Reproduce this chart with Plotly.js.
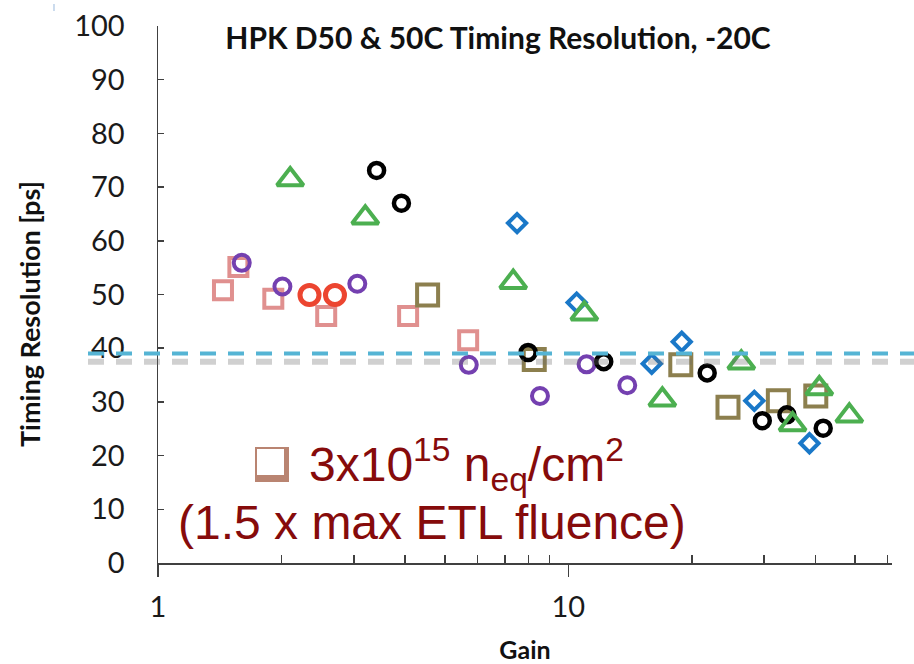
<!DOCTYPE html>
<html>
<head>
<meta charset="utf-8">
<script src="https://cdn.plot.ly/plotly-3.0.1.min.js"></script>
<style>html,body{margin:0;padding:0;background:#fff;}#chart{width:914px;height:664px;}</style>
</head>
<body>
<div id="chart"></div>
<script>
// ---- data ----
const gainPink   = [1.44, 1.57, 1.91, 2.57, 4.07, 5.70];
const resPink    = [50.8, 55.1, 49.2, 46.0, 46.0, 41.5];
const gainPurple = [1.60, 2.01, 3.06, 5.72, 8.53, 11.08, 13.92];
const resPurple  = [55.9, 51.5, 52.0, 36.9, 31.1, 37.0, 33.1];
const gainRed    = [2.34, 2.70];
const resRed     = [49.9, 49.9];
const gainGreen  = [2.10, 3.20, 7.34, 10.94, 16.95, 26.4, 35.2, 40.9, 48.4];
const resGreen   = [71.4, 64.3, 52.3, 46.4, 30.4, 37.3, 25.8, 32.5, 27.4];
const gainBlack  = [3.41, 3.92, 7.98, 12.2, 21.8, 29.7, 34.1, 41.8];
const resBlack   = [73.1, 67.0, 39.2, 37.5, 35.4, 26.5, 27.6, 25.1];
const gainBlue   = [7.50, 10.48, 15.97, 18.9, 28.4, 38.7];
const resBlue    = [63.3, 48.5, 37.1, 41.2, 30.2, 22.3];
const gainOlive  = [4.54, 8.26, 18.8, 24.5, 32.5, 40.1];
const resOlive   = [49.9, 37.9, 36.9, 29.0, 30.2, 31.1];
const targetRes  = 39;
const xMajorTicks = [1, 10];
const xMajorLabels = ['1', '10'];
const xMinorTicks = [2, 3, 4, 5, 6, 7, 8, 9, 20, 30, 40, 50, 60];

function tr(x, y, symbol, color, size, lw) {
  return {
    x: x, y: y, type: 'scatter', mode: 'markers', cliponaxis: false,
    hoverinfo: 'x+y', showlegend: false,
    marker: {symbol: symbol, size: size, color: color, line: {color: color, width: lw}}
  };
}

const data = [
  tr(gainPink, resPink, 'square-open', '#E0908F', 18, 4),
  tr(gainPurple, resPurple, 'circle-open', '#7440B0', 16, 4),
  tr(gainRed, resRed, 'circle-open', '#EC4530', 19, 5),
  tr(gainOlive, resOlive, 'square-open', '#8C7F4E', 21, 4),
  tr(gainBlue, resBlue, 'diamond-open', '#1A78C8', 14, 4),
  tr(gainBlack, resBlack, 'circle-open', '#000000', 15, 4.5),
  tr(gainGreen, resGreen, 'triangle-up-open', '#4CAF50', 23, 4)
];

const W = 734, H = 537, L = 158, T = 26;
function px(xp) { return (xp - L) / W; }
function py(yp) { return (T + H - yp) / H; }

const tickFont = {family: 'Lato, "DejaVu Sans", sans-serif', size: 29, color: '#1a1a1a'};

const layout = {
  width: 914, height: 664,
  margin: {l: L, r: 914 - L - W, t: T, b: 664 - T - H, pad: 0},
  paper_bgcolor: '#ffffff', plot_bgcolor: '#ffffff',
  showlegend: false,
  title: {
    text: '<b>HPK D50 &amp; 50C Timing Resolution, -20C</b>',
    font: {family: 'Lato, sans-serif', size: 30, color: '#111111'},
    x: 498 / 914, xanchor: 'center', xref: 'container',
    y: 1 - 38 / 664, yanchor: 'middle', yref: 'container'
  },
  xaxis: {
    type: 'log', range: [0, Math.log10(61.5)],
    showline: true, linecolor: '#404040', linewidth: 1.5,
    showgrid: false, zeroline: false,
    tickmode: 'array', tickvals: xMajorTicks, ticktext: xMajorLabels,
    ticks: 'outside', ticklen: 12, tickwidth: 1.5, tickcolor: '#404040',
    ticklabelstandoff: 6,
    tickfont: tickFont,
    minor: {tickmode: 'array', tickvals: xMinorTicks, ticks: 'inside', ticklen: 8, tickwidth: 1.5, tickcolor: '#404040', showgrid: false},
    title: {text: '<b>Gain</b>', font: {family: 'Lato, sans-serif', size: 25, color: '#111111'}, standoff: 20}
  },
  yaxis: {
    range: [0, 100], dtick: 10, tick0: 0,
    showline: true, linecolor: '#404040', linewidth: 1.5,
    showgrid: false, zeroline: false,
    ticks: 'inside', ticklen: 6, tickwidth: 1.5, tickcolor: '#404040',
    ticklabelstandoff: 26,
    tickfont: tickFont
  },
  shapes: [
    {type: 'line', xref: 'paper', yref: 'y', x0: px(88), x1: px(914), y0: targetRes - 1.5, y1: targetRes - 1.5,
     line: {color: 'rgba(110,110,110,0.32)', width: 6, dash: '16px,12px'}, layer: 'above'},
    {type: 'line', xref: 'paper', yref: 'y', x0: px(88), x1: px(914), y0: targetRes, y1: targetRes,
     line: {color: '#55B4D4', width: 4, dash: '16px,12px'}, layer: 'above'},
    {type: 'rect', xref: 'paper', yref: 'paper', x0: px(255), x1: px(289), y0: py(482), y1: py(447),
     fillcolor: '#B98471', line: {width: 0}, layer: 'above'},
    {type: 'rect', xref: 'paper', yref: 'paper', x0: px(257), x1: px(284), y0: py(475), y1: py(449),
     fillcolor: '#ffffff', line: {width: 0}, layer: 'above'},
    {type: 'line', xref: 'paper', yref: 'paper', x0: px(54), x1: px(54), y0: py(11), y1: py(4),
     line: {color: '#A9C4E2', width: 1.2}, layer: 'above'}
  ],
  annotations: [
    {text: '<b>Timing Resolution [ps]</b>', textangle: -90, xref: 'paper', yref: 'paper',
     x: px(29), y: py(314), xanchor: 'center', yanchor: 'middle', showarrow: false,
     font: {family: 'Lato, sans-serif', size: 27, color: '#111111'}},
    {text: '3x10<sup>15</sup> n<sub>eq</sub>/cm<sup>2</sup>', xref: 'paper', yref: 'paper',
     x: px(307), y: py(464), xanchor: 'left', yanchor: 'middle', showarrow: false,
     font: {family: '"Liberation Sans", Arial, sans-serif', size: 48, color: '#860B0B'}},
    {text: '(1.5 x max ETL fluence)', xref: 'paper', yref: 'paper',
     x: px(176), y: py(522), xanchor: 'left', yanchor: 'middle', showarrow: false,
     font: {family: '"Liberation Sans", Arial, sans-serif', size: 48, color: '#860B0B'}}
  ]
};

Plotly.newPlot('chart', data, layout, {displayModeBar: false, staticPlot: true});
</script>
</body>
</html>
